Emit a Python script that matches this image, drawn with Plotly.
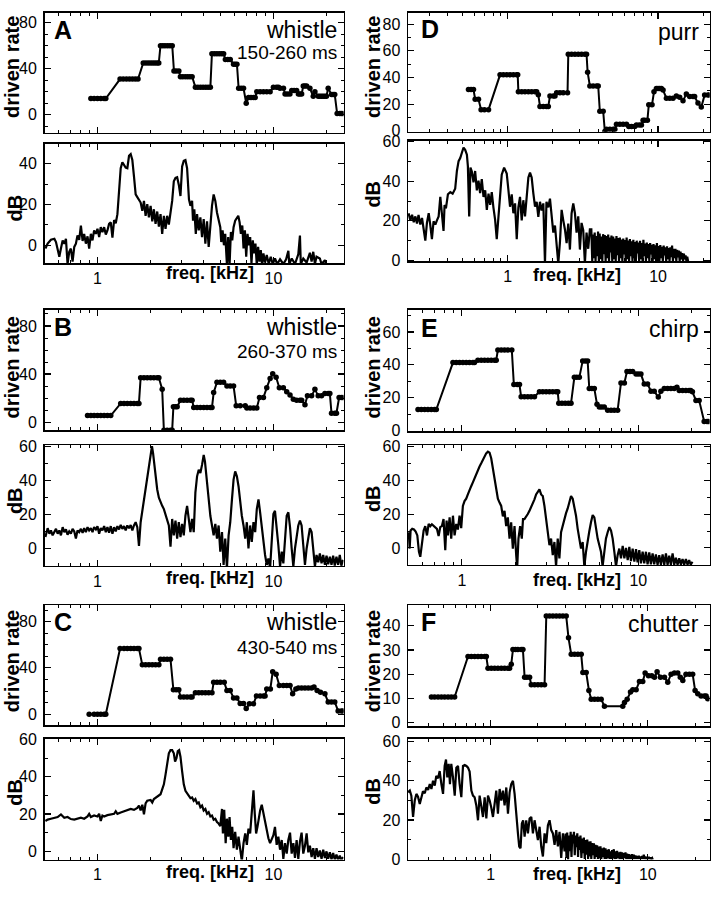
import math
import plotly.graph_objects as go

W, H = 716, 900
FONT = "Liberation Sans, Arial, Helvetica, sans-serif"

# ---------------- data (frequency in kHz) ----------------
X_MAJOR = [1, 10]
X_MAJOR_TEXT = ["1", "10"]
X_MINOR = [0.2, 0.3, 0.4, 0.5, 0.6, 0.7, 0.8, 0.9, 2, 3, 4, 5, 6, 7, 8, 9, 20, 30]

A_RATE = [(0.917, 14), (0.957, 14), (1.0, 14), (1.044, 14), (1.091, 14), (1.115, 14),
          (1.344, 31), (1.40, 31), (1.46, 31), (1.52, 31), (1.58, 31), (1.64, 31), (1.70, 31),
          (1.82, 45), (1.88, 45), (1.94, 45), (2.00, 45), (2.06, 45), (2.12, 45), (2.18, 45), (2.23, 45),
          (2.28, 60), (2.35, 60), (2.42, 60), (2.50, 60), (2.58, 60), (2.66, 60),
          (2.72, 38), (2.80, 38), (2.90, 38),
          (2.96, 33), (3.05, 33), (3.15, 33), (3.25, 33), (3.35, 33), (3.45, 33),
          (3.60, 24), (3.72, 24), (3.85, 24), (3.98, 24), (4.12, 24), (4.25, 24), (4.38, 24),
          (4.47, 53), (4.62, 53), (4.77, 53), (4.92, 53), (5.07, 53), (5.21, 53),
          (5.33, 48), (5.50, 48), (5.68, 48),
          (5.93, 44), (6.06, 44), (6.20, 44),
          (6.34, 23), (6.55, 23), (6.76, 23),
          (7.0, 10),
          (7.22, 15), (7.45, 15), (7.70, 15), (7.87, 15),
          (8.04, 20), (8.40, 20), (8.77, 20), (9.16, 20), (9.57, 20),
          (9.99, 24), (10.4, 24), (10.67, 24),
          (10.9, 23), (11.4, 23),
          (11.64, 18), (12.0, 18), (12.4, 18),
          (12.7, 21), (13.1, 21), (13.54, 21),
          (13.85, 18), (14.14, 18), (14.46, 18),
          (14.77, 25), (15.1, 25), (15.43, 25),
          (16.11, 23), (16.83, 16), (17.2, 20),
          (17.96, 16), (18.35, 16), (18.76, 16), (19.17, 16), (19.6, 16), (20.0, 16),
          (20.46, 23),
          (21.37, 17.5), (21.83, 17.5), (22.3, 17.5),
          (23.0, 1), (23.8, 1), (24.3, 1), (24.87, 1)]

A_SPEC = [(0.506, -1.6), (0.521, 0.8), (0.544, 2.7), (0.569, 3.2), (0.581, 1.6), (0.594, -1.6), (0.607, -5.6),
          (0.620, -1.6), (0.634, 2.4), (0.648, 0.8), (0.662, 3.2), (0.676, -9.2), (0.691, -3.2), (0.706, -1.6),
          (0.722, -8), (0.738, -0.8), (0.754, 0.8), (0.770, 4.8), (0.787, 2.7), (0.805, 9.7), (0.823, 2.1),
          (0.840, 5.6), (0.859, 0.8), (0.878, 4.4), (0.897, -1.6), (0.917, 5.6), (0.937, 2.4), (0.957, 7.3),
          (0.979, 5.6), (1.000, 8.1), (1.022, 4.0), (1.044, 8.9), (1.067, 6.5), (1.091, 8.9), (1.115, 5.3),
          (1.139, 7.3), (1.164, 10.5), (1.190, 11.3), (1.216, 3.7), (1.243, 12.4), (1.270, 10.8), (1.298, 15.3),
          (1.326, 29.8), (1.355, 37.9), (1.385, 40.8), (1.415, 39.5), (1.446, 38.2), (1.478, 37.9), (1.511, 44.0),
          (1.544, 44.8), (1.578, 41.9), (1.612, 33.9), (1.648, 25), (1.684, 23.7), (1.721, 22.6), (1.759, 21),
          (1.798, 16.9), (1.837, 21.8), (1.877, 14.5), (1.918, 20.2), (1.960, 13.7), (2.004, 19.4), (2.048, 11.8),
          (2.092, 17.7), (2.138, 10.5), (2.185, 16.6), (2.233, 9.2), (2.282, 15.3), (2.332, 5.6), (2.384, 14.5),
          (2.436, 8.1), (2.489, 14.5), (2.544, 10.2), (2.600, 15.6), (2.657, 21.8), (2.715, 31.5), (2.775, 33.1),
          (2.836, 33.4), (2.898, 29.8), (2.962, 24.2), (3.027, 38.7), (3.093, 41.5), (3.161, 41.9), (3.230, 37.9),
          (3.27, 28.2), (3.31, 22.6), (3.374, 19.4), (3.448, 21.8), (3.49, 12.1), (3.55, 17.7), (3.62, 5.6),
          (3.680, 15.3), (3.761, 7.3), (3.843, 13.7), (3.927, 4.0), (4.014, 12.9), (4.102, 0.8), (4.192, 11.8),
          (4.284, -0.8), (4.378, 12.1), (4.474, 19.4), (4.572, 25), (4.673, 21.8), (4.775, 16.1), (4.880, 11.8),
          (4.987, 8.9), (5.05, 1.6), (5.14, 7.3), (5.23, 0), (5.32, 5.6), (5.44, -9.7), (5.53, 4.0), (5.63, -9.7),
          (5.73, 6.5), (5.83, 2.4), (5.933, 8.9), (6.06, 12.1), (6.197, 13.7), (6.31, 14.5), (6.42, 11.3),
          (6.53, 5.6), (6.65, 9.7), (6.759, -1.6), (6.88, 7.3), (7.00, -5.6), (7.12, 5.6), (7.25, 0), (7.372, 4.0),
          (7.50, -8.9), (7.63, 2.4), (7.77, -4.0), (7.90, 0.8), (8.041, -9.7), (8.18, -0.8), (8.33, -8.1),
          (8.47, -2.4), (8.62, -9.7), (8.771, -4.0), (8.96, -8.5), (9.160, -4.8), (9.40, -9.2), (9.65, -5.6),
          (9.90, -9.2), (10.2, -6.5), (10.5, -9.2), (10.9, -6.9), (11.38, -9.2), (11.8, -6.9), (12.15, -2.7),
          (12.3, -9.2), (12.7, -6.5), (13.25, -9.2), (13.84, -4.4), (14.14, 4.8), (14.3, -9.2), (14.77, -6.5),
          (15.43, -8.5), (16.11, -3.7), (16.47, -8), (16.83, -3.2), (17.2, -9.2), (17.57, -5.6), (18.35, -6.5),
          (18.76, -9.2), (19.6, -7.3), (20.0, -9.7)]

B_RATE = [(0.878, 5.5), (0.917, 5.5), (0.957, 5.5), (1.0, 5.5), (1.044, 5.5), (1.091, 5.5), (1.139, 5.5), (1.19, 5.5),
          (1.355, 15.6), (1.415, 15.6), (1.478, 15.6), (1.544, 15.6), (1.612, 15.6), (1.684, 15.6), (1.72, 15.6),
          (1.759, 36.9), (1.837, 36.9), (1.918, 36.9), (2.004, 36.9), (2.092, 36.9), (2.185, 36.9), (2.233, 36.9),
          (2.332, 27.3),
          (2.384, -6.8), (2.489, -6.8), (2.60, -6.8), (2.657, -6.8),
          (2.70, 12.8), (2.775, 12.8), (2.836, 12.8),
          (2.962, 18.3), (3.093, 18.3), (3.23, 18.3), (3.374, 18.3), (3.448, 18.3),
          (3.523, 12.3), (3.68, 12.3), (3.843, 12.3), (4.014, 12.3), (4.192, 12.3), (4.378, 12.3), (4.474, 12.3),
          (4.572, 24.6),
          (4.775, 33.3), (4.987, 33.3), (5.208, 33.3),
          (5.44, 30), (5.68, 30), (5.933, 30),
          (6.14, 13.7), (6.47, 13.7), (6.91, 13.7),
          (7.06, 11.7), (7.37, 11.7), (7.70, 11.7), (8.04, 11.7),
          (8.33, 20.5), (8.77, 20.5),
          (9.16, 28.7), (9.57, 36.3), (9.9, 40.2), (10.35, 37.4),
          (10.8, 28.7), (11.38, 28.7),
          (11.89, 25.4), (12.42, 22.7), (12.97, 19.1),
          (13.54, 18.3), (14.14, 18.3), (14.46, 18.3),
          (15.1, 14.5),
          (15.6, 21.9), (16.47, 21.9),
          (17.2, 27.3),
          (17.96, 21.9), (18.76, 21.9),
          (19.6, 23.8), (20.46, 23.8), (20.91, 23.8),
          (21.37, 7.4), (22.3, 7.4), (22.8, 7.4),
          (23.6, 20.5), (24.3, 20.5), (24.87, 20.5)]

B_SPEC = [(0.506, 6.7), (0.521, 11.9), (0.533, 8.7), (0.544, 10.6), (0.556, 7.7), (0.569, 9.6), (0.581, 11.5),
          (0.594, 8.7), (0.607, 10.6), (0.620, 7.7), (0.634, 12.5), (0.648, 9.6), (0.662, 11.2), (0.676, 8.1),
          (0.691, 10), (0.706, 8.7), (0.722, 11.5), (0.738, 10), (0.754, 5.8), (0.770, 10.6), (0.787, 9.6),
          (0.805, 11.5), (0.823, 9.2), (0.840, 11.9), (0.859, 9.6), (0.878, 12.5), (0.897, 10.6), (0.917, 11.9),
          (0.937, 9.6), (0.957, 12.5), (0.979, 11.2), (1.000, 13.1), (1.022, 8.7), (1.044, 11.9), (1.067, 10.6),
          (1.091, 13.1), (1.115, 9.6), (1.139, 12.5), (1.164, 9.2), (1.190, 13.1), (1.216, 8.7), (1.243, 12.5),
          (1.270, 10), (1.298, 13.1), (1.326, 11.2), (1.355, 13.8), (1.385, 11.5), (1.415, 13.1), (1.446, 10.6),
          (1.478, 13.5), (1.511, 11.9), (1.544, 13.8), (1.578, 10.6), (1.612, 13.5), (1.648, 15.4), (1.684, 12.5),
          (1.721, 1.5), (1.759, 15.4), (1.798, 22.1), (1.837, 27.9), (1.877, 34.6), (1.918, 41.3), (1.960, 48.1),
          (2.004, 54.8), (2.04, 60), (2.07, 55.8), (2.11, 48.1), (2.15, 41.3), (2.185, 34.6), (2.233, 29.8),
          (2.282, 26.9), (2.332, 25), (2.384, 23.1), (2.436, 20.2), (2.489, 17.3), (2.544, 13.5), (2.600, 1),
          (2.657, 17.3), (2.715, 7.7), (2.775, 16.3), (2.836, 5.8), (2.898, 15.4), (2.962, 6.7), (3.027, 14.4),
          (3.093, 7.7), (3.161, 19.2), (3.230, 25), (3.30, 16.3), (3.374, 9.6), (3.448, 17.3), (3.523, 9.6),
          (3.60, 32.7), (3.680, 42.3), (3.761, 46.2), (3.843, 44.2), (3.927, 49), (4.014, 54.8), (4.08, 51),
          (4.15, 42.3), (4.23, 34.6), (4.30, 26.9), (4.378, 19.2), (4.474, 13.5), (4.572, 7.7), (4.673, 14.4),
          (4.775, 5.8), (4.880, 13.5), (4.987, -1.9), (5.10, 9.6), (5.208, -9.6), (5.32, 5.8), (5.44, -11.5),
          (5.56, 7.7), (5.681, 15.4), (5.81, 28.8), (5.933, 40.4), (6.06, 45.2), (6.197, 42.3), (6.33, 36.5),
          (6.472, 26.9), (6.61, 19.2), (6.759, 13.5), (6.91, 5.8), (7.059, 15.4), (7.21, 0), (7.372, 13.5),
          (7.53, 3.8), (7.699, 15.4), (7.87, 9.6), (8.041, 23.1), (8.22, 28.8), (8.398, 21.2), (8.58, 11.5),
          (8.771, 1.9), (8.96, -3.8), (9.160, -9.6), (9.36, -5.8), (9.567, -11.5), (9.78, 7.7), (9.991, 20.2),
          (10.2, 22.1), (10.43, 13.5), (10.66, 1.9), (10.90, -10.6), (11.14, -1.9), (11.38, -8.7), (11.63, 7.7),
          (11.89, 19.2), (12.15, 21.2), (12.42, 12.5), (12.69, 0), (12.97, -10.6), (13.25, 0), (13.54, 7.7),
          (13.84, 13.5), (14.14, 16.3), (14.45, 13.5), (14.77, 1.9), (15.1, -9.6), (15.43, 0), (15.77, 6.7),
          (16.11, 11.9), (16.47, 9.6), (16.83, 0), (17.2, -10.6), (17.57, -3.8), (17.96, -8.1), (18.35, -2.9),
          (18.76, -8.7), (19.17, -3.8), (19.6, -9.6), (20.02, -4.2), (20.46, -9.2), (20.91, -4.8), (21.37, -9.6),
          (21.83, -4.2), (22.3, -10), (22.8, -4.8), (23.3, -9.6), (23.81, -3.8), (24.3, -10), (24.87, -6.7)]

C_RATE = [(0.897, 0), (0.957, 0), (1.0, 0), (1.044, 0), (1.091, 0), (1.115, 0),
          (1.344, 56.7), (1.415, 56.7), (1.478, 56.7), (1.544, 56.7), (1.612, 56.7), (1.684, 56.7), (1.72, 56.7),
          (1.798, 42.6), (1.877, 42.6), (1.96, 42.6), (2.048, 42.6), (2.138, 42.6), (2.233, 42.6),
          (2.282, 47.4), (2.384, 47.4), (2.489, 47.4), (2.60, 47.4),
          (2.70, 21), (2.80, 21), (2.898, 21),
          (2.962, 14.8), (3.093, 14.8), (3.23, 14.8), (3.374, 14.8), (3.448, 14.8),
          (3.60, 18.4), (3.761, 18.4), (3.927, 18.4), (4.102, 18.4), (4.284, 18.4), (4.474, 18.4),
          (4.572, 27.5), (4.775, 27.5), (4.987, 27.5), (5.25, 27.5),
          (5.44, 20.4), (5.68, 20.4),
          (5.933, 13.9), (6.197, 13.9),
          (6.472, 9.1), (6.759, 9.1),
          (7.0, 4.8),
          (7.3, 9), (7.7, 9),
          (8.0, 15.6), (8.4, 15.6), (8.77, 15.6), (8.96, 15.6),
          (9.16, 21.8), (9.6, 21.8),
          (9.9, 36.6), (10.35, 34.6),
          (10.8, 24.7), (11.38, 24.7), (11.89, 24.7), (12.42, 24.7),
          (12.85, 17.6), (13.4, 21.8),
          (13.84, 22.7), (14.45, 22.7), (15.1, 22.7), (15.77, 22.7), (16.47, 22.7),
          (17.0, 23.5), (17.7, 20.4), (18.5, 19), (19.6, 17.6),
          (20.46, 10.5), (21.37, 10.5), (22.3, 10.5),
          (23.3, 2.8), (24.3, 2.8), (24.87, 2.8)]

C_SPEC = [(0.506, 16.3), (0.521, 17), (0.544, 17.5), (0.569, 18), (0.594, 18.4), (0.620, 19.8), (0.634, 18.7),
          (0.648, 18), (0.676, 18.4), (0.706, 17.3), (0.738, 17), (0.770, 17.3), (0.805, 18), (0.840, 17.5),
          (0.878, 18.7), (0.897, 20.1), (0.917, 18.4), (0.957, 19.2), (1.000, 18.7), (1.022, 20.1), (1.044, 16.3),
          (1.067, 19.2), (1.091, 18.7), (1.139, 19.4), (1.190, 19.8), (1.243, 20.1), (1.270, 21.5), (1.298, 20.1),
          (1.355, 20.8), (1.415, 21.5), (1.478, 21.9), (1.544, 22.7), (1.612, 22.2), (1.684, 23.3), (1.721, 24.5),
          (1.759, 21.9), (1.798, 25), (1.837, 19.8), (1.877, 25.7), (1.918, 27.1), (2.004, 27.5), (2.048, 26.2),
          (2.092, 28), (2.185, 29.2), (2.282, 30.6), (2.332, 33.2), (2.384, 35.9), (2.436, 41.1), (2.489, 47.2),
          (2.544, 52.5), (2.600, 54.2), (2.657, 54.2), (2.715, 52.5), (2.76, 48.1), (2.81, 49.9), (2.86, 53.7),
          (2.91, 54.2), (2.962, 50.7), (3.027, 42.9), (3.093, 35.9), (3.161, 32.4), (3.230, 31), (3.30, 29.7),
          (3.374, 28.5), (3.448, 28.9), (3.523, 27.1), (3.60, 28), (3.680, 25.7), (3.761, 26.2), (3.843, 23.6),
          (3.927, 24.5), (4.014, 21.9), (4.102, 22.7), (4.192, 20.1), (4.284, 21), (4.378, 18.7), (4.474, 19.2),
          (4.572, 17), (4.673, 17.5), (4.775, 15.7), (4.880, 14.9), (4.987, 13.5), (5.10, 22.7), (5.16, 9.6),
          (5.25, 22.2), (5.35, 4.4), (5.44, 17.5), (5.54, 7.9), (5.63, 18.4), (5.73, 6.1), (5.83, 13.1),
          (5.933, 1.7), (6.06, 10.5), (6.197, 0.9), (6.33, 7.9), (6.472, 1.7), (6.61, -5.2), (6.759, 4.4),
          (6.91, 9.6), (7.059, 3.5), (7.21, 12.2), (7.372, 9.6), (7.53, 20.1), (7.699, 32.7), (7.83, 20.1),
          (7.97, 9.6), (8.11, 13.1), (8.26, 19.2), (8.398, 21.9), (8.58, 25), (8.771, 20.1), (8.96, 14.9),
          (9.160, 10.5), (9.36, 7), (9.567, 4.4), (9.78, 7), (9.991, 8.7), (10.2, 13.1), (10.43, 3.5), (10.66, 7.9),
          (10.90, 0.9), (11.14, 6.1), (11.38, -4), (11.63, 4.4), (11.89, -1.2), (12.15, 6.1), (12.42, 10),
          (12.69, -1.2), (12.97, 4.4), (13.25, -3.5), (13.54, 6.1), (13.84, -4), (14.14, 5.2), (14.45, 10),
          (14.77, -1.2), (15.1, 3), (15.43, 9.6), (15.77, -0.5), (16.11, 3), (16.47, -3), (16.83, 1.7), (17.2, -4),
          (17.57, 1.7), (17.96, -3), (18.35, 0.5), (18.76, -4), (19.17, 0.9), (19.6, -3.5), (20.02, 0),
          (20.46, -4), (20.91, -0.5), (21.37, -4.4), (21.83, -0.9), (22.3, -4.4), (22.8, -1.7), (23.3, -4.7),
          (23.81, -2.3), (24.3, -4.7), (24.87, -3)]

D_RATE = [(0.548, 31), (0.57, 31), (0.592, 31),
          (0.607, 23.7), (0.639, 23.7),
          (0.665, 15.9), (0.70, 15.9), (0.745, 15.9),
          (0.889, 42), (0.935, 42), (0.985, 42), (1.036, 42), (1.09, 42), (1.148, 42), (1.165, 42),
          (1.177, 29.3), (1.239, 29.3), (1.303, 29.3), (1.372, 29.3), (1.443, 29.3), (1.519, 29.3), (1.558, 29.3),
          (1.598, 27),
          (1.639, 18.3), (1.725, 18.3), (1.81, 18.3), (1.862, 18.3),
          (1.91, 26.2), (2.01, 26.2), (2.062, 26.2),
          (2.115, 28.6), (2.225, 28.6), (2.34, 28.6), (2.50, 28.6),
          (2.528, 57.5), (2.66, 57.5), (2.80, 57.5), (2.945, 57.5), (3.10, 57.5), (3.26, 57.5), (3.345, 57.5),
          (3.40, 44),
          (3.52, 33.7), (3.70, 33.7), (3.90, 33.7), (4.0, 33.7),
          (4.10, 14.7), (4.316, 14.7),
          (4.427, -0.5),
          (4.54, 1.2), (4.78, 1.2), (5.03, 1.2), (5.16, 1.2),
          (5.29, 4.9), (5.57, 4.9), (5.86, 4.9), (6.166, 4.9),
          (6.39, 3.2), (6.66, 3.2), (7.0, 3.2),
          (7.18, 4.4), (7.5, 4.4), (7.755, 4.4),
          (7.955, 8), (8.16, 8), (8.5, 8),
          (8.68, 19.6), (9.12, 19.6),
          (9.4, 29.3),
          (9.75, 31.8), (10.0, 31.8), (10.26, 31.8), (10.53, 31.8),
          (10.8, 30.6),
          (11.37, 24.5), (11.96, 24.5), (12.58, 24.5),
          (13.24, 26.2), (13.93, 25.2), (14.66, 22.5), (15.43, 27.6),
          (16.24, 25.7), (17.1, 25.7), (17.52, 25.7),
          (18.44, 20.8), (19.4, 17.8),
          (20.42, 26.9), (21.49, 26.9), (22.0, 26.9)]

D_SPEC = [(0.219, 23.8), (0.225, 20.2), (0.231, 23), (0.237, 19.2), (0.243, 22.2), (0.249, 18.6), (0.255, 23),
          (0.262, 18.1), (0.269, 21.4), (0.276, 15.6), (0.283, 9.9), (0.290, 18.9), (0.298, 23.8), (0.305, 18.1),
          (0.313, 10.7), (0.321, 19.7), (0.330, 18.1), (0.338, 20.2), (0.347, 22.2), (0.356, 32.1), (0.365, 23.8),
          (0.374, 14.8), (0.380, 28), (0.388, 26.3), (0.400, 33.4), (0.415, 34.5), (0.430, 33.7), (0.447, 36.2),
          (0.459, 45.2), (0.471, 50.2), (0.483, 51.8), (0.495, 55.1), (0.508, 57.1), (0.521, 55.9), (0.535, 53.5),
          (0.543, 47.7), (0.554, 22.2), (0.565, 46.9), (0.577, 44.9), (0.592, 39.5), (0.607, 45.2), (0.623, 35.4),
          (0.639, 40.3), (0.655, 34), (0.672, 41.1), (0.690, 32.1), (0.708, 35.4), (0.726, 25.5), (0.745, 33.7),
          (0.764, 28), (0.783, 34.5), (0.803, 26.8), (0.824, 20.6), (0.845, 10.7), (0.867, 22.2), (0.889, 33.7),
          (0.912, 43.3), (0.946, 46.9), (0.985, 43.9), (1.010, 35.7), (1.036, 27.1), (1.063, 33.4), (1.090, 23.8),
          (1.119, 28.8), (1.148, 10.7), (1.177, 26.8), (1.207, 32.1), (1.239, 20.2), (1.270, 30.4), (1.303, 22.2),
          (1.337, 33.7), (1.372, 41.9), (1.407, 44.4), (1.443, 41.9), (1.481, 33.7), (1.519, 27.1), (1.558, 29.6),
          (1.598, 21.9), (1.639, 29.6), (1.682, 25.2), (1.725, 28.8), (1.769, -1.6), (1.81, 29.6), (1.862, 26.8),
          (1.910, 31.2), (1.959, 20.2), (2.010, 14), (2.062, 17.6), (2.115, 9), (2.169, -1.6), (2.225, 9),
          (2.283, 25.5), (2.342, 20.2), (2.402, 15.6), (2.464, 8.7), (2.528, 18.6), (2.593, 5.4), (2.660, 23.8),
          (2.729, 28.8), (2.799, 23.8), (2.871, 14), (2.945, 22.2), (3.021, 5.4), (3.099, 18.9), (3.179, 15.3),
          (3.261, -1.6), (3.345, 14), (3.432, 5.8), (3.520, 15.6),
          (3.60, 15.6), (3.65, -0.5), (3.69, 13), (3.74, 1), (3.79, 14), (3.84, -0.5), (3.89, 12.3), (3.94, 2),
          (3.99, 14.5), (4.04, -0.5), (4.09, 13.5), (4.15, 0.5), (4.20, 12), (4.26, -0.5), (4.31, 13.2), (4.37, 3),
          (4.42, 12.8), (4.48, -0.5), (4.54, 12.3), (4.60, 1), (4.66, 13), (4.72, -0.5), (4.78, 11.5), (4.84, 4),
          (4.90, 12.5), (4.96, -0.5), (5.03, 12), (5.09, 0.5), (5.16, 11), (5.23, -0.5), (5.29, 12.3), (5.36, 2.5),
          (5.43, 11.2), (5.50, -0.5), (5.57, 11.5), (5.64, 1), (5.72, 10.5), (5.79, -0.5), (5.87, 11), (5.94, 3),
          (6.02, 10.2), (6.10, -0.5), (6.18, 11.5), (6.26, 0.5), (6.34, 10), (6.42, -0.5), (6.50, 10.7), (6.59, 2),
          (6.67, 9.6), (6.76, -0.5), (6.85, 10.4), (6.93, 1), (7.02, 9.2), (7.12, -0.5), (7.21, 9.9), (7.30, 3.5),
          (7.40, 9), (7.49, -0.5), (7.59, 9.9), (7.69, 0.5), (7.79, 8.7), (7.89, -0.5), (7.99, 10.4), (8.10, 2),
          (8.20, 8.5), (8.31, -0.5), (8.42, 9), (8.53, 1), (8.64, 8.2), (8.75, -0.5), (8.86, 8.7), (8.98, 3),
          (9.09, 7.8), (9.21, -0.5), (9.33, 8.2), (9.45, 0.5), (9.58, 7.5), (9.70, -0.5), (9.83, 8.7), (9.95, 2),
          (10.08, 7.2), (10.21, -0.5), (10.35, 7.7), (10.48, 1), (10.62, 6.8), (10.76, -0.5), (10.90, 7.4),
          (11.04, 2.5), (11.18, 6.6), (11.33, -0.5), (11.48, 7.1), (11.62, 0.5), (11.78, 6.2), (11.93, -0.5),
          (12.08, 6.6), (12.24, 1.5), (12.40, 7.4), (12.56, -0.5), (12.72, 5.8), (12.89, 1), (13.06, 5.8),
          (13.23, -0.5), (13.40, 5.2), (13.57, 1.5), (13.75, 4.9), (13.93, -0.5), (14.11, 4.4), (14.29, 0.5),
          (14.48, 3.6), (14.67, -0.5), (14.86, 3.3), (15.05, 0.5), (15.25, 2.5), (15.44, -0.5), (15.64, 1.8),
          (15.85, -0.5)]

E_RATE = [(0.564, 12.8), (0.589, 12.8), (0.615, 12.8), (0.642, 12.8), (0.671, 12.8), (0.70, 12.8), (0.716, 12.8),
          (0.890, 41.4), (0.929, 41.4), (0.97, 41.4), (1.013, 41.4), (1.058, 41.4), (1.105, 41.4), (1.154, 41.4),
          (1.179, 41.4),
          (1.232, 42.8), (1.287, 42.8), (1.344, 42.8), (1.404, 42.8), (1.466, 42.8), (1.531, 42.8), (1.565, 42.8),
          (1.599, 49), (1.670, 49), (1.744, 49), (1.821, 49), (1.918, 49),
          (1.97, 28), (2.06, 28), (2.12, 28),
          (2.166, 20.6), (2.262, 20.6), (2.363, 20.6), (2.468, 20.6), (2.578, 20.6),
          (2.751, 23.6), (2.873, 23.6), (3.001, 23.6), (3.134, 23.6), (3.273, 23.6), (3.417, 23.6), (3.492, 23.6),
          (3.54, 16.6), (3.69, 16.6), (3.85, 16.6), (4.01, 16.6), (4.154, 16.6),
          (4.338, 32.4), (4.48, 32.4), (4.63, 32.4),
          (4.835, 42.4), (5.0, 42.4), (5.16, 42.4),
          (5.27, 25.6), (5.45, 25.6), (5.63, 25.6),
          (5.83, 16),
          (6.01, 14.4), (6.2, 14.4), (6.41, 14.4),
          (6.70, 12.4), (7.0, 12.4), (7.3, 12.4), (7.63, 12.4),
          (7.97, 29), (8.33, 29),
          (8.62, 36), (8.96, 36), (9.28, 36),
          (9.70, 34.4), (10.0, 34.4), (10.34, 34.4),
          (10.8, 28.4), (11.28, 28.4),
          (11.78, 24), (12.3, 24),
          (12.97, 20.4), (13.42, 24),
          (14.02, 25.6), (14.64, 25.6), (15.29, 25.6), (15.97, 25.6),
          (16.54, 26.4),
          (17.05, 24.4), (17.8, 24.4), (18.59, 24.4), (19.4, 24.4), (19.8, 24.4),
          (20.25, 23.6),
          (21.2, 18.4), (22.1, 18.4),
          (23.6, 5.6), (24.5, 5.6), (25.0, 5.6)]

E_SPEC = [(0.50, 9.3), (0.506, -0.4), (0.512, 10.3), (0.523, 11.3), (0.535, 10.9), (0.547, 9.7), (0.559, 7.4),
          (0.571, -2.3), (0.581, -5.3), (0.594, 1.6), (0.607, 10.3), (0.620, 12.9), (0.634, 7.4), (0.648, 14.2),
          (0.662, 12.9), (0.676, 14), (0.691, 12.9), (0.706, 12.1), (0.722, 11.3), (0.738, 7), (0.754, 12.3),
          (0.770, 12.9), (0.787, 17.1), (0.805, -1.4), (0.819, 16.2), (0.833, 7.4), (0.852, 18.1), (0.870, 5.5),
          (0.890, 19.1), (0.909, 7.4), (0.929, 14.2), (0.949, 10.9), (0.970, 19.1), (0.991, 11.7), (1.013, 24.9),
          (1.035, 27.8), (1.058, 29.2), (1.081, 31.7), (1.105, 33.7), (1.129, 36.6), (1.154, 38.9), (1.179, 41.5),
          (1.205, 43.8), (1.232, 46.3), (1.259, 48.3), (1.287, 50.2), (1.315, 52.2), (1.344, 54.1), (1.373, 56.1),
          (1.404, 57.1), (1.435, 56.5), (1.466, 53.2), (1.498, 47.3), (1.531, 40.5), (1.565, 34.7), (1.599, 29.2),
          (1.634, 26.9), (1.670, 24.9), (1.707, 18.7), (1.744, 22), (1.782, 12.9), (1.821, 18.1), (1.862, 5.5),
          (1.902, 15.2), (1.944, -0.4), (1.987, 12.9), (2.031, -4.3), (2.057, -12), (2.092, 5.5), (2.138, 12.9),
          (2.185, 5.5), (2.22, 17.1), (2.262, 17.1), (2.312, 19.1), (2.363, 20.1), (2.415, 22), (2.468, 24),
          (2.522, 25.9), (2.578, 28.8), (2.634, 31.7), (2.692, 33.7), (2.751, 34.7), (2.812, 31.7), (2.873, 30.8),
          (2.936, 24.9), (3.001, 17.1), (3.066, 9.3), (3.134, 1.6), (3.202, 5.5), (3.273, -4.3), (3.344, 3.5),
          (3.417, -11), (3.492, 5.5), (3.569, -6.2), (3.647, 9.3), (3.727, 13.2), (3.809, 18.1), (3.892, 20.6),
          (3.978, 23.4), (4.065, 26.9), (4.154, 30.8), (4.245, 29.2), (4.338, 24.9), (4.433, 19.1), (4.531, 11.3),
          (4.630, 5.5), (4.731, -0.4), (4.835, 3.5), (4.941, -11), (5.05, -2.3), (5.16, 5.5), (5.27, 9.7),
          (5.39, 15.2), (5.51, 19.5), (5.63, 18.1), (5.75, 11.3), (5.88, 5.5), (6.01, 1.6), (6.14, -2.3),
          (6.27, -11), (6.41, -0.4), (6.55, 5.5), (6.70, 9.3), (6.85, 12.3), (7.00, 10.3), (7.15, 5.5), (7.31, -2.3),
          (7.47, -11), (7.63, -4.3), (7.80, -0.4), (7.97, -6.2), (8.15, 1.2), (8.33, -6.2), (8.51, 0), (8.70, -7.2),
          (8.89, 0.6), (9.08, -7.8), (9.28, -0.4), (9.49, -8.2), (9.70, -0.8), (9.90, -8.6), (10.12, -1.4),
          (10.34, -9.2), (10.57, -2.3), (10.80, -9.2), (11.04, -2.3), (11.28, -9.7), (11.53, -2.7), (11.78, -9.7),
          (12.04, -3.3), (12.30, -9.7), (12.57, -3.9), (12.85, -10), (13.13, -4.3), (13.42, -10), (13.72, -3.9),
          (14.02, -10), (14.33, -3.3), (14.64, -10), (14.96, -4.7), (15.29, -10), (15.63, -3.3), (15.97, -10),
          (16.32, -5.8), (16.68, -10), (17.05, -6.2), (17.42, -10), (17.80, -6.6), (18.19, -10), (18.59, -6.6),
          (19.0, -10), (19.4, -7.2), (19.8, -10), (20.25, -8.2)]

F_RATE = [(0.42, 10.6), (0.44, 10.6), (0.463, 10.6), (0.486, 10.6), (0.51, 10.6), (0.536, 10.6), (0.562, 10.6),
          (0.59, 10.6),
          (0.718, 27.3), (0.754, 27.3), (0.791, 27.3), (0.831, 27.3), (0.872, 27.3), (0.916, 27.3), (0.939, 27.3),
          (0.962, 22.5), (1.01, 22.5), (1.06, 22.5), (1.113, 22.5), (1.169, 22.5), (1.227, 22.5), (1.289, 22.5),
          (1.32, 22.5),
          (1.353, 24.1),
          (1.387, 30.2), (1.44, 30.2), (1.49, 30.2), (1.567, 30.2), (1.605, 30.2),
          (1.645, 18.7), (1.70, 18.7), (1.77, 18.7),
          (1.814, 15.6), (1.904, 15.6), (2.0, 15.6), (2.1, 15.6), (2.204, 15.6),
          (2.26, 44), (2.37, 44), (2.49, 44), (2.615, 44), (2.745, 44), (2.883, 44), (3.027, 44),
          (3.13, 35),
          (3.257, 28.2), (3.42, 28.2), (3.59, 28.2), (3.77, 28.2),
          (3.863, 20.7), (4.056, 20.7),
          (4.22, 13.3),
          (4.364, 9.6), (4.582, 9.6), (4.812, 9.6), (5.052, 9.6),
          (5.30, 6.8), (6.93, 6.8),
          (7.11, 8.3), (7.39, 9.6), (7.76, 12.6),
          (8.03, 13.6), (8.43, 13.6),
          (8.85, 17), (9.29, 17),
          (9.62, 20.5),
          (10.1, 19.4), (10.6, 19.4),
          (11.03, 18.7), (11.46, 21),
          (12.04, 18.7), (12.77, 18.7),
          (13.4, 16.7), (14.07, 20),
          (14.78, 20.5), (15.51, 20.5),
          (16.1, 18.7), (16.7, 17.4),
          (17.5, 20), (18.4, 20), (19.3, 20),
          (20.0, 13.3), (20.79, 11.9),
          (21.83, 11), (22.9, 11), (23.5, 11),
          (24.07, 9.9)]

F_SPEC = [(0.298, 34.1), (0.306, 35), (0.313, 32.4), (0.321, 21.5), (0.329, 29.9), (0.337, 33.3), (0.345, 31.9),
          (0.354, 28.2), (0.363, 31.6), (0.371, 34.6), (0.381, 33.6), (0.390, 36.6), (0.400, 35.3), (0.410, 38.3),
          (0.420, 35.8), (0.430, 40), (0.441, 37.5), (0.451, 42.5), (0.463, 41.3), (0.474, 45), (0.486, 38.3),
          (0.498, 33.3), (0.510, 47.6), (0.520, 50.9), (0.530, 41.7), (0.541, 48.7), (0.551, 38.3), (0.562, 48.7),
          (0.576, 41.7), (0.591, 32.4), (0.605, 46.7), (0.620, 47.6), (0.635, 38.3), (0.651, 31.6), (0.667, 47.6),
          (0.684, 48.1), (0.701, 47.6), (0.718, 46.7), (0.735, 44.7), (0.754, 35), (0.772, 32.4), (0.791, 31.6),
          (0.811, 27.4), (0.831, 19.8), (0.851, 32.4), (0.872, 27.4), (0.894, 21.5), (0.916, 31.6), (0.939, 20.7),
          (0.962, 32.4), (0.986, 29.9), (1.010, 26.2), (1.035, 21.5), (1.060, 28.2), (1.086, 35), (1.113, 23.2),
          (1.141, 35.8), (1.169, 29.9), (1.198, 35), (1.227, 27.4), (1.258, 36.6), (1.289, 23.2), (1.321, 34.1),
          (1.353, 38.3), (1.387, 40), (1.421, 33.3), (1.456, 20.7), (1.492, 13.1), (1.52, 6.4), (1.55, 5.5),
          (1.58, 18.2), (1.61, 19.8), (1.645, 11.4), (1.685, 19.8), (1.727, 13.1), (1.770, 20.7), (1.814, 21.5),
          (1.858, 13.1), (1.904, 19.8), (1.951, 14.8), (1.999, 9.7), (2.049, 16.5), (2.099, 6.4), (2.151, 1.3),
          (2.204, 13.1), (2.259, 8.1), (2.315, 17.3), (2.372, 19.8), (2.430, 14.8), (2.490, 13.1), (2.552, 7.2),
          (2.615, 14.8), (2.679, 6.4), (2.745, 13.9), (2.813, 0.5), (2.883, 13.1), (2.954, 3.9),
          (3.00, 13), (3.04, 0.5), (3.07, 13.5), (3.11, -0.3), (3.15, 12), (3.19, 4), (3.23, 13.9), (3.27, 1),
          (3.31, 12.5), (3.35, 8), (3.39, 13.9), (3.43, 2), (3.47, 12), (3.51, 6), (3.56, 13.1), (3.60, 1),
          (3.64, 11.4), (3.69, 4.7), (3.73, 12), (3.78, 0.5), (3.83, 10.5), (3.87, 3), (3.92, 11), (3.97, 0),
          (4.02, 9.7), (4.07, 2.2), (4.12, 10), (4.17, 0), (4.22, 8.9), (4.27, 1.3), (4.32, 9), (4.37, 0),
          (4.43, 8.1), (4.48, 2), (4.54, 8), (4.59, 0), (4.65, 7.2), (4.71, 1), (4.76, 7), (4.82, 0), (4.88, 6.4),
          (4.94, 0.3), (5.00, 6.5), (5.06, 0), (5.12, 5.5), (5.19, 1), (5.25, 5.8), (5.32, 0), (5.38, 5.5),
          (5.45, 0), (5.51, 4.7), (5.58, 0.5), (5.65, 5), (5.72, 0), (5.79, 3.9), (5.86, 0), (5.93, 4.5),
          (6.00, 0.5), (6.08, 5), (6.15, 0), (6.23, 3.9), (6.30, 0), (6.38, 4.2), (6.46, 0.5), (6.54, 3.4),
          (6.62, 0), (6.70, 3.6), (6.78, 0), (6.87, 3.4), (6.95, 0), (7.04, 3), (7.12, 0.5), (7.21, 3.4), (7.30, 0),
          (7.39, 2.7), (7.48, 0), (7.57, 2.5), (7.66, 0), (7.76, 2.2), (7.85, 0), (7.95, 2.5), (8.05, 0),
          (8.15, 2.2), (8.25, 0), (8.35, 1.8), (8.45, 0), (8.55, 1.5), (8.66, 0), (8.77, 1.7), (8.87, 0),
          (8.98, 1.2), (9.09, 0), (9.20, 1.5), (9.32, 0), (9.43, 2.2), (9.55, 0), (9.67, 1.2), (9.78, 0),
          (9.90, 1), (10.0, 0), (10.15, 1), (10.28, 0), (10.40, 0.8), (10.53, 0), (10.66, 0.5), (10.76, -0.3)]

# ---------------- figure ----------------
fig = go.Figure()
layout = {}
annotations = []
counter = [0]


def fx(p):
    return p / W


def fy(p):
    return 1 - p / H


def add_panel(pairs, mode, xr, yr, ydtick, yminor, xl, xr_px, top, bot, xlabels):
    counter[0] += 1
    i = counter[0]
    sfx = "" if i == 1 else str(i)
    tickfont = dict(family=FONT, size=16, color="black")
    common = dict(showline=True, linecolor="black", linewidth=1.5, mirror="allticks",
                  ticks="inside", tickcolor="black", tickwidth=1.2, showgrid=False,
                  zeroline=False, tickfont=tickfont)
    layout["xaxis" + sfx] = dict(common, type="log",
                                 range=[math.log10(xr[0]), math.log10(xr[1])],
                                 domain=[fx(xl), fx(xr_px)], anchor="y" + sfx,
                                 tickmode="array", tickvals=X_MAJOR, ticktext=X_MAJOR_TEXT,
                                 ticklen=6, showticklabels=xlabels,
                                 minor=dict(tickmode="array", tickvals=X_MINOR, ticks="inside",
                                            ticklen=3, tickcolor="black", tickwidth=1))
    ya = dict(common, range=list(yr), domain=[fy(bot), fy(top)], anchor="x" + sfx,
              tickmode="linear", tick0=0, dtick=ydtick, ticklen=6, ticklabelstandoff=3)
    if yminor:
        ya["minor"] = dict(tickmode="linear", tick0=0, dtick=yminor, ticks="inside",
                           ticklen=3, tickcolor="black", tickwidth=1)
    layout["yaxis" + sfx] = ya
    xs = [p[0] for p in pairs]
    ys = [p[1] for p in pairs]
    if mode == "rate":
        tr = go.Scatter(x=xs, y=ys, mode="lines+markers",
                        line=dict(color="black", width=2),
                        marker=dict(color="black", size=5.5), showlegend=False)
    else:
        tr = go.Scatter(x=xs, y=ys, mode="lines",
                        line=dict(color="black", width=2.2), showlegend=False)
    tr.update(xaxis="x" + sfx, yaxis="y" + sfx)
    fig.add_trace(tr)


def ann(text, x, y, size, bold=False, xanchor="center", angle=0):
    annotations.append(dict(text=("<b>%s</b>" % text) if bold else text,
                            xref="paper", yref="paper", x=fx(x), y=fy(y),
                            xanchor=xanchor, yanchor="middle", showarrow=False,
                            textangle=angle,
                            font=dict(family=FONT, size=size, color="black")))


PANELS = [
    dict(letter="A", title="whistle", sub="150-260 ms", rate=A_RATE, spec=A_SPEC, xr=(0.5, 25),
         rr=(-15.7, 88.6), rd=40, rm=10, sr=(-8.9, 50), sd=20, sm=10,
         col="L", rt=5, rb=127, st=138, sb=260, ly=22, ty=22, suby=45, rly=60, dly=203, fly=270),
    dict(letter="B", title="whistle", sub="260-370 ms", rate=B_RATE, spec=B_SPEC, xr=(0.5, 25),
         rr=(-6.8, 93.7), rd=40, rm=10, sr=(-10.2, 60.6), sd=20, sm=10,
         col="L", rt=307, rb=430, st=445, sb=568, ly=325, ty=325, suby=350, rly=366, dly=501, fly=580),
    dict(letter="C", title="whistle", sub="430-540 ms", rate=C_RATE, spec=C_SPEC, xr=(0.5, 25),
         rr=(-9.4, 94.2), rd=40, rm=10, sr=(-4.4, 60.3), sd=20, sm=10,
         col="L", rt=608, rb=730, st=744, sb=867, ly=625, ty=625, suby=651, rly=665, dly=798, fly=880),
    dict(letter="D", title="purr", sub=None, rate=D_RATE, spec=D_SPEC, xr=(0.217, 22.0),
         rr=(-0.7, 88.5), rd=20, rm=10, sr=(-0.6, 60.6), sd=20, sm=10,
         col="R", rt=5, rb=126, st=135, sb=258, ly=21, ty=24, suby=None, rly=60, dly=190, fly=272),
    dict(letter="E", title="chirp", sub=None, rate=E_RATE, spec=E_SPEC, xr=(0.495, 25.3),
         rr=(-0.4, 73.6), rd=20, rm=10, sr=(-10.1, 61), sd=20, sm=10,
         col="R", rt=307, rb=431, st=445, sb=567, ly=326, ty=327, suby=None, rly=366, dly=500, fly=582),
    dict(letter="F", title="chutter", sub=None, rate=F_RATE, spec=F_SPEC, xr=(0.298, 24.7),
         rr=(-1.4, 48.5), rd=10, rm=None, sr=(-0.3, 61.5), sd=20, sm=10,
         col="R", rt=608, rb=731, st=744, sb=867, ly=625, ty=627, suby=None, rly=665, dly=798, fly=882),
]

for p in PANELS:
    if p["col"] == "L":
        xl, xrp, letx, titx, labx, dbx, frx = 44.5, 343.5, 52, 339, 12, 15, 210
    else:
        xl, xrp, letx, titx, labx, dbx, frx = 408, 709.5, 419, 701, 373, 373, 577
    add_panel(p["rate"], "rate", p["xr"], p["rr"], p["rd"], p["rm"], xl, xrp, p["rt"], p["rb"], False)
    add_panel(p["spec"], "spec", p["xr"], p["sr"], p["sd"], p["sm"], xl, xrp, p["st"], p["sb"], True)
    ann(p["letter"], letx, p["ly"], 25, bold=True, xanchor="left")
    ann(p["title"], titx, p["ty"], 23, xanchor="right")
    if p["sub"]:
        ann(p["sub"], titx, p["suby"], 19, xanchor="right")
    ann("driven rate", labx, p["rly"], 20, bold=True, angle=-90)
    ann("dB", dbx, p["dly"], 20, bold=True, angle=-90)
    ann("freq. [kHz]", frx, p["fly"], 18, bold=True)

fig.update_layout(width=W, height=H, margin=dict(l=0, r=0, t=0, b=0),
                  paper_bgcolor="white", plot_bgcolor="white", showlegend=False,
                  annotations=annotations, font=dict(family=FONT, color="black"))
fig.update_layout(**layout)
fig.write_html("out.html", config={"displayModeBar": False, "staticPlot": True},
               post_script="document.body.style.margin='0';document.body.style.padding='0';"
                           "document.documentElement.style.overflow='hidden';")
